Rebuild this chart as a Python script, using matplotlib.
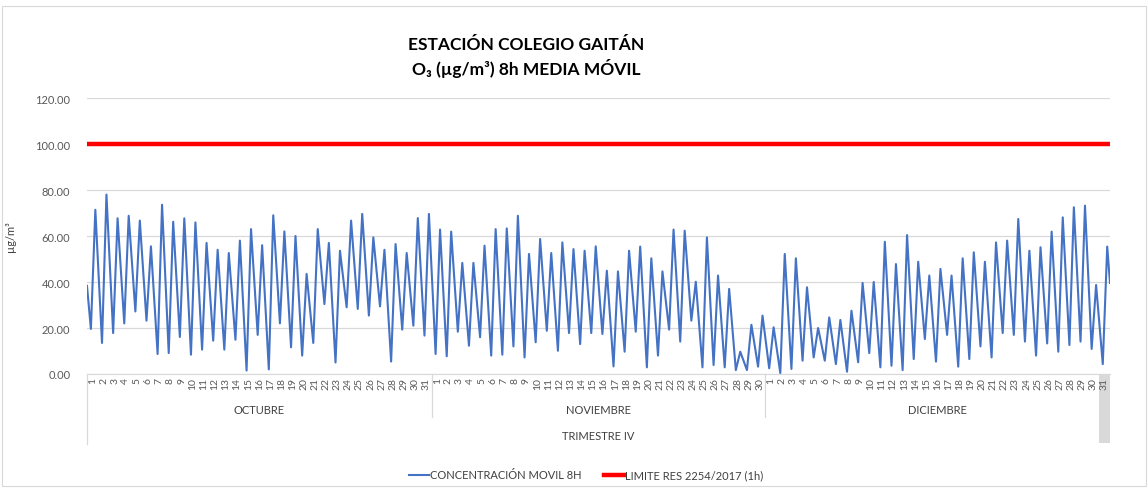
import numpy as np
import matplotlib.pyplot as plt
from matplotlib.patches import Rectangle
from matplotlib.ticker import FormatStrFormatter

plt.rcParams['font.family'] = ['Lato', 'DejaVu Sans']

# dias del trimestre IV
meses = ["OCTUBRE", "NOVIEMBRE", "DICIEMBRE"]
dias_mes = [31, 30, 31]

# concentracion O3 8h: valor minimo (manana) y maximo (tarde) de cada dia
minimo = [19.6, 13.5, 17.8, 22.0, 27.2, 23.2, 8.7, 9.1, 16.1, 8.4, 10.6, 14.5, 10.6, 14.9, 1.5, 17.0,
          2.0, 22.0, 11.6, 8.0, 13.5, 30.4, 5.0, 29.0, 28.3, 25.4, 29.4, 5.4, 19.3, 21.0, 16.7,
          8.7, 7.7, 18.4, 12.3, 16.0, 8.0, 8.4, 12.0, 7.2, 13.8, 18.8, 10.1, 17.8, 13.0, 17.8,
          17.4, 3.3, 9.7, 18.4, 2.9, 8.0, 19.3, 14.1, 23.2, 2.9, 3.9, 2.9, 1.7, 1.7, 3.2,
          2.5, 0.4, 2.2, 5.8, 7.2, 5.8, 4.3, 1.0, 5.1, 9.1, 2.9, 3.6, 1.7, 6.5, 15.2, 5.4,
          17.0, 3.2, 6.5, 12.0, 7.2, 17.8, 17.0, 14.1, 8.0, 13.3, 9.7, 12.6, 14.1, 10.9, 4.3]
maximo = [71.4, 78.0, 67.7, 68.8, 66.7, 55.5, 73.6, 66.2, 67.7, 65.9, 57.0, 54.0, 52.6, 58.0, 63.0, 56.0,
          69.0, 62.0, 60.0, 43.5, 63.0, 57.0, 53.6, 66.7, 69.6, 59.4, 54.0, 56.5, 52.6, 67.8, 69.6,
          62.8, 61.9, 48.3, 48.3, 55.8, 63.0, 63.3, 68.8, 52.2, 58.7, 52.6, 57.2, 54.3, 53.6, 55.5,
          44.9, 44.6, 53.6, 55.4, 50.3, 44.6, 62.8, 62.3, 40.1, 59.4, 42.8, 37.0, 9.7, 21.4, 25.4,
          20.3, 52.2, 50.3, 37.7, 20.0, 24.6, 23.5, 27.5, 39.6, 40.0, 57.5, 47.8, 60.4, 48.8, 42.8, 45.7,
          42.8, 50.3, 52.9, 48.8, 57.2, 58.0, 67.4, 53.6, 55.1, 61.9, 68.1, 72.5, 73.2, 38.7, 55.4]
inicio = 38.3
fin = 39.6
limite = 100

n = len(minimo)
x = [0.0]
y = [inicio]
for d in range(n):
    x += [d + 0.35, d + 0.75]
    y += [minimo[d], maximo[d]]
x.append(float(n))
y.append(fin)

fig = plt.figure(figsize=(11.48, 4.89), dpi=100)
ax = fig.add_axes([87 / 1148, 1 - 375 / 489, (1110 - 87) / 1148, (375 - 99) / 489])

ax.plot(x, y, color="#4472C4", lw=1.5, solid_joinstyle='round', label="CONCENTRACIÓN MOVIL 8H")
ax.plot([0, n], [limite, limite], color="#FF0000", lw=3.2, label="LIMITE RES 2254/2017 (1h)")

ax.set_xlim(0, n)
ax.set_ylim(0, 120)
ax.set_yticks(np.arange(0, 121, 20))
ax.yaxis.set_major_formatter(FormatStrFormatter('%.2f'))
ax.grid(axis='y', color="#D9D9D9", lw=0.9)
ax.set_axisbelow(True)
for s in ["top", "right", "left"]:
    ax.spines[s].set_visible(False)
ax.spines["bottom"].set_color("#D9D9D9")
ax.tick_params(axis='y', length=0, labelsize=8, labelcolor="#595959", pad=12)

etiquetas = []
for m in dias_mes:
    etiquetas += [str(i) for i in range(1, m + 1)]
ax.set_xticks(np.arange(n) + 0.5)
ax.set_xticklabels(etiquetas, rotation=90, fontsize=7.5, color="#595959")
ax.tick_params(axis='x', length=0, pad=2)

ax.set_ylabel("µg/m³", fontsize=8, color="#404040", labelpad=14)

# tabla de categorias bajo el eje
tr = ax.get_xaxis_transform()
ax.add_patch(Rectangle((n - 1, -0.25), 1, 0.25, transform=tr, clip_on=False,
                       facecolor="#D9D9D9", edgecolor="none", zorder=0.1))
ax.plot([0, 0], [0, -0.254], transform=tr, clip_on=False, color="#D9D9D9", lw=0.9)
inicio_mes = 0
for mes, m in zip(meses, dias_mes):
    ax.text(inicio_mes + m / 2, -0.13, mes, transform=tr, ha='center', va='center',
            fontsize=8, color="#404040")
    if inicio_mes > 0:
        ax.plot([inicio_mes, inicio_mes], [0, -0.156], transform=tr, clip_on=False,
                color="#D9D9D9", lw=0.9)
    inicio_mes += m
ax.text(n / 2, -0.222, "TRIMESTRE IV", transform=tr, ha='center', va='center',
        fontsize=8, color="#404040")

fig.text(526 / 1148, 1 - 45 / 489, "ESTACIÓN COLEGIO GAITÁN", ha='center', va='center',
         fontsize=12.5, fontweight='bold')
fig.text(526 / 1148, 1 - 69 / 489, "O₃ (µg/m³) 8h MEDIA MÓVIL", ha='center', va='center',
         fontsize=12.5, fontweight='bold')

fig.legend(loc='center', bbox_to_anchor=(586 / 1148, 1 - 476 / 489), ncol=2, frameon=False,
           fontsize=8, handlelength=1.8, handletextpad=0.1, columnspacing=2.0,
           labelcolor="#404040")

fig.patches.append(Rectangle((0.002, 0.004), 0.996, 0.982, transform=fig.transFigure,
                             fill=False, edgecolor="#D9D9D9", lw=0.8))

fig.savefig("out.png", dpi=100)
